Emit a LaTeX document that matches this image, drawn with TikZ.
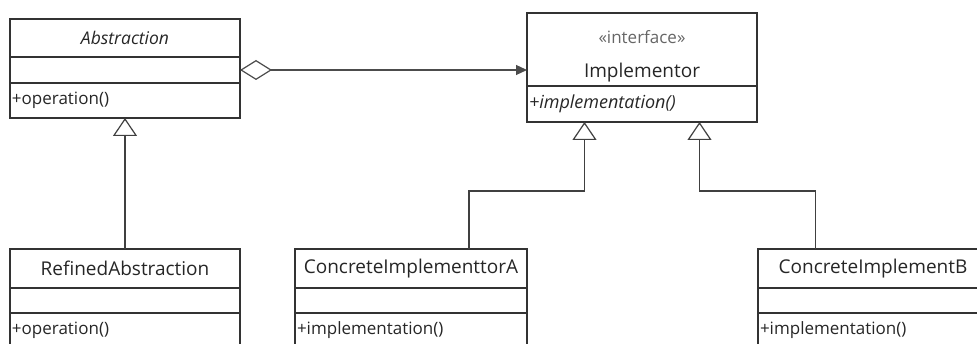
\documentclass[tikz,border=0pt]{standalone}
\usepackage{fontspec}
\setmainfont{Open Sans}
\usetikzlibrary{arrows.meta, calc, positioning}

\tikzset{
  box/.style={draw=black!80, line width=1.2pt, minimum width=230pt, inner sep=0pt, outer sep=0pt, text=black!85, font=\fontsize{19pt}{22pt}\selectfont},
  namebox/.style={box, minimum height=38pt},
  attrbox/.style={box, minimum height=26pt},
  opbox/.style={box, minimum height=35pt, align=left, inner xsep=2pt, font=\fontsize{17pt}{20pt}\selectfont},
  agg/.style={draw=black!70, line width=1.2pt, {Diamond[open, length=32pt, width=20pt, fill=white]}-{Triangle[length=11pt, width=10pt]}},
  inherit/.style={draw=black!75, line width=1.2pt, -{Triangle[open, length=18pt, width=24pt, fill=white]}}
}

\begin{document}
\begin{tikzpicture}[x=1pt, y=-1pt]
% Frame
\useasboundingbox (0,0) rectangle (977,344);
\clip (0,0) rectangle (977,344);

% Abstraction
\node[namebox, font=\fontsize{17.5pt}{20pt}\itshape, anchor=north west] (abs) at (10,19) {Abstraction};
\node[attrbox, below=0pt of abs] (abs-attr) {};
\node[opbox, text width=226pt, below=0pt of abs-attr] (abs-op) {+operation()};

% Implementor
\node[box, minimum height=73pt, align=center, anchor=north west] (impl) at (527,13)
  {\rule{0pt}{26pt}{\fontsize{17pt}{20pt}\selectfont\color{black!60}«interface»}\\[12pt]Implementor};
\node[opbox, text width=226pt, minimum height=36pt, below=0pt of impl] (impl-op) {\fontsize{18pt}{20pt}\selectfont\itshape +implementation()};

% Subclasses
\foreach \nm/\x/\w/\title/\op in {refined/10/230/RefinedAbstraction/+operation(),
    cia/295/232/ConcreteImplementtorA/+implementation(),
    cib/758/230/ConcreteImplementB/+implementation()} {
  \pgfmathsetmacro\tw{\w-4}
  \node[namebox, minimum width=\w pt, minimum height=39pt, anchor=north west] (\nm) at (\x,249) {\title};
  \node[attrbox, minimum width=\w pt, minimum height=25pt, below=0pt of \nm] (\nm-attr) {};
  \node[opbox, minimum width=\w pt, text width=\tw pt, below=0pt of \nm-attr] (\nm-op) {\op};
}

% Aggregation
\draw[agg] (abs-attr.east) -- (abs-attr.east -| impl.west);

% Generalisation
\draw[inherit] (refined.north) -- (abs-op.south);
\coordinate (ciaIn) at ($(cia.north west)!0.75!(cia.north east)$);
\coordinate (cibIn) at ($(cib.north west)!0.25!(cib.north east)$);
\coordinate (implA) at ($(impl-op.south west)!0.25!(impl-op.south east)$);
\coordinate (implB) at ($(impl-op.south west)!0.75!(impl-op.south east)$);
\draw[inherit] (ciaIn) -- ++(0,-58) -| (implA);
\draw[inherit] (cibIn) -- ++(0,-58) -| (implB);
\end{tikzpicture}
\end{document}
